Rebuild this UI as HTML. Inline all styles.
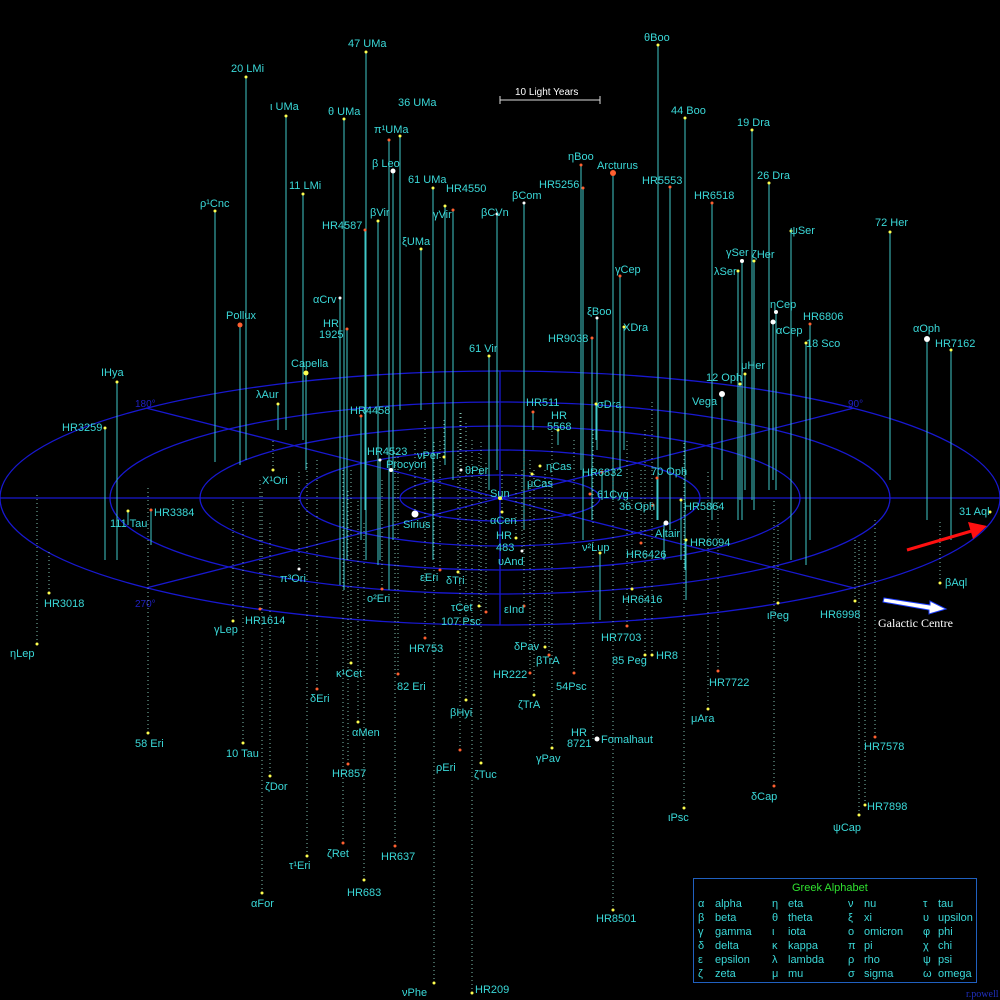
<!DOCTYPE html>
<html><head><meta charset="utf-8"><style>
html,body{margin:0;padding:0;background:#000;}
svg{display:block}
text{font-family:"Liberation Sans","DejaVu Sans",sans-serif;font-size:11px;fill:#3ad8d8}
.s line{stroke:#40c8c8;stroke-width:1}
.d line{stroke:#80c0b0;stroke-width:1;stroke-dasharray:1 3}
.y{fill:#ffff50}.o{fill:#ff6030}.w{fill:#fff}
</style></head><body>
<svg width="1000" height="1000" viewBox="0 0 1000 1000">
<rect width="1000" height="1000" fill="#000"/>
<g fill="none" stroke="#1818d0" stroke-width="1.3">
<ellipse cx="500" cy="498" rx="100" ry="23"/>
<ellipse cx="500" cy="498" rx="200" ry="48"/>
<ellipse cx="500" cy="498" rx="300" ry="72"/>
<ellipse cx="500" cy="498" rx="390" ry="96"/>
<ellipse cx="500" cy="498" rx="500" ry="127"/>
<line x1="0" y1="498" x2="1000" y2="498"/>
<line x1="500" y1="371" x2="500" y2="625"/>
<line x1="146" y1="408" x2="854" y2="588"/>
<line x1="146" y1="588" x2="854" y2="408"/>
</g>
<text x="135" y="407" style="fill:#2020c0;font-size:10px">180°</text>
<text x="848" y="407" style="fill:#2020c0;font-size:10px">90°</text>
<text x="135" y="607" style="fill:#2020c0;font-size:10px">270°</text>
<g stroke="#ddd"><line x1="500" y1="100" x2="600" y2="100"/><line x1="500" y1="96" x2="500" y2="104"/><line x1="600" y1="96" x2="600" y2="104"/></g>
<text x="515" y="95" style="fill:#fff;font-size:10px">10 Light Years</text>

<g class="s">
<line x1="366" y1="52" x2="366" y2="560"/><line x1="246" y1="77" x2="246" y2="460"/><line x1="286" y1="116" x2="286" y2="430"/>
<line x1="344" y1="119" x2="344" y2="590"/><line x1="400" y1="136" x2="400" y2="410"/><line x1="389" y1="140" x2="389" y2="590"/>
<line x1="393" y1="171" x2="393" y2="540"/><line x1="433" y1="188" x2="433" y2="560"/><line x1="445" y1="206" x2="445" y2="465"/>
<line x1="453" y1="210" x2="453" y2="480"/><line x1="378" y1="221" x2="378" y2="565"/><line x1="365" y1="230" x2="365" y2="510"/>
<line x1="421" y1="249" x2="421" y2="410"/><line x1="497" y1="214" x2="497" y2="470"/><line x1="524" y1="203" x2="524" y2="530"/>
<line x1="303" y1="194" x2="303" y2="440"/><line x1="215" y1="211" x2="215" y2="462"/><line x1="340" y1="298" x2="340" y2="585"/>
<line x1="347" y1="329" x2="347" y2="560"/><line x1="240" y1="325" x2="240" y2="465"/><line x1="306" y1="373" x2="306" y2="470"/>
<line x1="278" y1="404" x2="278" y2="430"/><line x1="117" y1="382" x2="117" y2="560"/><line x1="105" y1="428" x2="105" y2="560"/>
<line x1="361" y1="416" x2="361" y2="540"/><line x1="380" y1="460" x2="380" y2="560"/><line x1="489" y1="356" x2="489" y2="490"/>
<line x1="658" y1="45" x2="658" y2="520"/><line x1="685" y1="118" x2="685" y2="570"/><line x1="581" y1="165" x2="581" y2="470"/>
<line x1="583" y1="188" x2="583" y2="540"/><line x1="613" y1="173" x2="613" y2="500"/><line x1="670" y1="187" x2="670" y2="530"/>
<line x1="752" y1="130" x2="752" y2="500"/><line x1="769" y1="183" x2="769" y2="490"/><line x1="712" y1="203" x2="712" y2="520"/>
<line x1="791" y1="231" x2="791" y2="560"/><line x1="890" y1="232" x2="890" y2="480"/><line x1="742" y1="261" x2="742" y2="520"/>
<line x1="754" y1="261" x2="754" y2="510"/><line x1="738" y1="271" x2="738" y2="520"/><line x1="620" y1="276" x2="620" y2="470"/>
<line x1="597" y1="318" x2="597" y2="450"/><line x1="624" y1="327" x2="624" y2="450"/><line x1="592" y1="338" x2="592" y2="520"/>
<line x1="776" y1="312" x2="776" y2="490"/><line x1="810" y1="324" x2="810" y2="540"/><line x1="773" y1="322" x2="773" y2="480"/>
<line x1="806" y1="343" x2="806" y2="565"/><line x1="927" y1="339" x2="927" y2="520"/><line x1="951" y1="350" x2="951" y2="540"/>
<line x1="745" y1="374" x2="745" y2="490"/><line x1="740" y1="384" x2="740" y2="500"/><line x1="722" y1="394" x2="722" y2="480"/>
<line x1="596" y1="404" x2="596" y2="440"/><line x1="533" y1="412" x2="533" y2="430"/><line x1="558" y1="430" x2="558" y2="445"/>
<line x1="657" y1="478" x2="657" y2="520"/><line x1="681" y1="500" x2="681" y2="560"/><line x1="686" y1="540" x2="686" y2="600"/>
<line x1="600" y1="553" x2="600" y2="620"/><line x1="151" y1="510" x2="151" y2="545"/><line x1="128" y1="511" x2="128" y2="525"/>
<line x1="664" y1="523" x2="664" y2="560"/><line x1="602" y1="472" x2="602" y2="500"/>
</g>
<g class="d">
<line x1="37" y1="644" x2="37" y2="492"/><line x1="49" y1="593" x2="49" y2="550"/><line x1="148" y1="733" x2="148" y2="488"/>
<line x1="243" y1="743" x2="243" y2="500"/><line x1="233" y1="621" x2="233" y2="500"/><line x1="260" y1="609" x2="260" y2="480"/>
<line x1="270" y1="776" x2="270" y2="520"/><line x1="307" y1="856" x2="307" y2="460"/><line x1="262" y1="893" x2="262" y2="490"/>
<line x1="299" y1="569" x2="299" y2="470"/><line x1="351" y1="663" x2="351" y2="470"/><line x1="317" y1="689" x2="317" y2="460"/>
<line x1="358" y1="722" x2="358" y2="500"/><line x1="348" y1="764" x2="348" y2="490"/><line x1="343" y1="843" x2="343" y2="470"/>
<line x1="364" y1="880" x2="364" y2="520"/><line x1="395" y1="846" x2="395" y2="450"/><line x1="398" y1="674" x2="398" y2="450"/>
<line x1="382" y1="589" x2="382" y2="480"/><line x1="425" y1="638" x2="425" y2="420"/><line x1="440" y1="570" x2="440" y2="440"/>
<line x1="458" y1="572" x2="458" y2="440"/><line x1="479" y1="606" x2="479" y2="450"/><line x1="486" y1="612" x2="486" y2="460"/>
<line x1="466" y1="700" x2="466" y2="420"/><line x1="460" y1="750" x2="460" y2="410"/><line x1="481" y1="763" x2="481" y2="440"/>
<line x1="434" y1="983" x2="434" y2="440"/><line x1="472" y1="993" x2="472" y2="440"/><line x1="524" y1="606" x2="524" y2="450"/>
<line x1="545" y1="647" x2="545" y2="470"/><line x1="549" y1="655" x2="549" y2="480"/><line x1="530" y1="673" x2="530" y2="460"/>
<line x1="534" y1="695" x2="534" y2="470"/><line x1="574" y1="673" x2="574" y2="440"/><line x1="552" y1="748" x2="552" y2="430"/>
<line x1="593" y1="739" x2="593" y2="430"/><line x1="613" y1="910" x2="613" y2="450"/><line x1="627" y1="626" x2="627" y2="440"/>
<line x1="632" y1="589" x2="632" y2="470"/><line x1="645" y1="655" x2="645" y2="430"/><line x1="652" y1="655" x2="652" y2="400"/>
<line x1="718" y1="671" x2="718" y2="500"/><line x1="708" y1="709" x2="708" y2="470"/><line x1="684" y1="808" x2="684" y2="440"/>
<line x1="774" y1="786" x2="774" y2="500"/><line x1="778" y1="603" x2="778" y2="520"/><line x1="855" y1="601" x2="855" y2="540"/>
<line x1="875" y1="737" x2="875" y2="520"/><line x1="865" y1="805" x2="865" y2="540"/><line x1="859" y1="815" x2="859" y2="540"/>
<line x1="940" y1="583" x2="940" y2="520"/><line x1="641" y1="543" x2="641" y2="470"/><line x1="461" y1="470" x2="461" y2="410"/>
<line x1="444" y1="457" x2="444" y2="420"/><line x1="273" y1="470" x2="273" y2="440"/><line x1="415" y1="514" x2="415" y2="440"/>
<line x1="522" y1="551" x2="522" y2="470"/><line x1="516" y1="538" x2="516" y2="470"/><line x1="502" y1="512" x2="502" y2="470"/>
</g>
<g class="y">
<circle cx="366" cy="52" r="1.5"/><circle cx="246" cy="77" r="1.5"/><circle cx="286" cy="116" r="1.5"/><circle cx="344" cy="119" r="1.5"/>
<circle cx="400" cy="136" r="1.5"/><circle cx="433" cy="188" r="1.5"/><circle cx="445" cy="206" r="1.5"/><circle cx="378" cy="221" r="1.5"/>
<circle cx="421" cy="249" r="1.5"/><circle cx="303" cy="194" r="1.5"/><circle cx="215" cy="211" r="1.5"/><circle cx="278" cy="404" r="1.5"/>
<circle cx="117" cy="382" r="1.5"/><circle cx="105" cy="428" r="1.5"/><circle cx="489" cy="356" r="1.5"/><circle cx="658" cy="45" r="1.5"/>
<circle cx="685" cy="118" r="1.5"/><circle cx="752" cy="130" r="1.5"/><circle cx="769" cy="183" r="1.5"/><circle cx="791" cy="231" r="1.5"/>
<circle cx="890" cy="232" r="1.5"/><circle cx="754" cy="261" r="1.5"/><circle cx="738" cy="271" r="1.5"/><circle cx="806" cy="343" r="1.5"/>
<circle cx="951" cy="350" r="1.5"/><circle cx="745" cy="374" r="1.5"/><circle cx="740" cy="384" r="1.5"/><circle cx="624" cy="327" r="1.5"/>
<circle cx="500" cy="498" r="2"/><circle cx="502" cy="512" r="1.5"/><circle cx="516" cy="538" r="1.5"/><circle cx="540" cy="466" r="1.5"/>
<circle cx="532" cy="474" r="1.5"/><circle cx="681" cy="500" r="1.5"/><circle cx="686" cy="540" r="1.5"/><circle cx="600" cy="553" r="1.5"/>
<circle cx="128" cy="511" r="1.5"/><circle cx="49" cy="593" r="1.5"/><circle cx="37" cy="644" r="1.5"/><circle cx="148" cy="733" r="1.5"/>
<circle cx="243" cy="743" r="1.5"/><circle cx="233" cy="621" r="1.5"/><circle cx="270" cy="776" r="1.5"/><circle cx="307" cy="856" r="1.5"/>
<circle cx="262" cy="893" r="1.5"/><circle cx="351" cy="663" r="1.5"/><circle cx="358" cy="722" r="1.5"/><circle cx="364" cy="880" r="1.5"/>
<circle cx="458" cy="572" r="1.5"/><circle cx="479" cy="606" r="1.5"/><circle cx="466" cy="700" r="1.5"/><circle cx="481" cy="763" r="1.5"/>
<circle cx="434" cy="983" r="1.5"/><circle cx="472" cy="993" r="1.5"/><circle cx="545" cy="647" r="1.5"/><circle cx="534" cy="695" r="1.5"/>
<circle cx="552" cy="748" r="1.5"/><circle cx="632" cy="589" r="1.5"/><circle cx="645" cy="655" r="1.5"/><circle cx="652" cy="655" r="1.5"/>
<circle cx="708" cy="709" r="1.5"/><circle cx="684" cy="808" r="1.5"/><circle cx="778" cy="603" r="1.5"/><circle cx="855" cy="601" r="1.5"/>
<circle cx="865" cy="805" r="1.5"/><circle cx="859" cy="815" r="1.5"/><circle cx="940" cy="583" r="1.5"/><circle cx="990" cy="512" r="1.5"/>
<circle cx="273" cy="470" r="1.5"/><circle cx="444" cy="457" r="1.5"/><circle cx="596" cy="404" r="1.5"/><circle cx="558" cy="430" r="1.5"/>
<circle cx="613" cy="910" r="1.5"/><circle cx="306" cy="373" r="2.5"/>
</g>
<g class="o">
<circle cx="389" cy="140" r="1.5"/><circle cx="453" cy="210" r="1.5"/><circle cx="365" cy="230" r="1.5"/><circle cx="347" cy="329" r="1.5"/>
<circle cx="240" cy="325" r="2.5"/><circle cx="581" cy="165" r="1.5"/><circle cx="583" cy="188" r="1.5"/><circle cx="613" cy="173" r="3"/>
<circle cx="670" cy="187" r="1.5"/><circle cx="712" cy="203" r="1.5"/><circle cx="620" cy="276" r="1.5"/><circle cx="592" cy="338" r="1.5"/>
<circle cx="810" cy="324" r="1.5"/><circle cx="361" cy="416" r="1.5"/><circle cx="533" cy="412" r="1.5"/><circle cx="657" cy="478" r="1.5"/>
<circle cx="590" cy="494" r="1.5"/><circle cx="602" cy="472" r="1.5"/><circle cx="151" cy="510" r="1.5"/><circle cx="260" cy="609" r="1.5"/>
<circle cx="317" cy="689" r="1.5"/><circle cx="348" cy="764" r="1.5"/><circle cx="343" cy="843" r="1.5"/><circle cx="395" cy="846" r="1.5"/>
<circle cx="398" cy="674" r="1.5"/><circle cx="382" cy="589" r="1.5"/><circle cx="425" cy="638" r="1.5"/><circle cx="440" cy="570" r="1.5"/>
<circle cx="486" cy="612" r="1.5"/><circle cx="460" cy="750" r="1.5"/><circle cx="524" cy="606" r="1.5"/><circle cx="530" cy="673" r="1.5"/>
<circle cx="574" cy="673" r="1.5"/><circle cx="627" cy="626" r="1.5"/><circle cx="718" cy="671" r="1.5"/><circle cx="875" cy="737" r="1.5"/>
<circle cx="641" cy="543" r="1.5"/><circle cx="653" cy="505" r="1.5"/><circle cx="549" cy="655" r="1.5"/><circle cx="774" cy="786" r="1.5"/>
</g>
<g class="w">
<circle cx="393" cy="171" r="2.5"/><circle cx="497" cy="214" r="1.5"/><circle cx="524" cy="203" r="1.5"/><circle cx="340" cy="298" r="1.5"/>
<circle cx="380" cy="460" r="1.5"/><circle cx="391" cy="470" r="2"/><circle cx="742" cy="261" r="2"/><circle cx="776" cy="312" r="2"/>
<circle cx="773" cy="322" r="2.5"/><circle cx="927" cy="339" r="3"/><circle cx="722" cy="394" r="3"/><circle cx="666" cy="523" r="2.5"/>
<circle cx="415" cy="514" r="3.5"/><circle cx="522" cy="551" r="1.5"/><circle cx="461" cy="470" r="1.5"/><circle cx="299" cy="569" r="1.5"/>
<circle cx="597" cy="739" r="2.5"/><circle cx="597" cy="318" r="1.5"/>
</g>
<g>
<text x="348" y="47">47 UMa</text><text x="231" y="72">20 LMi</text><text x="270" y="110">ι UMa</text><text x="328" y="115">θ UMa</text>
<text x="398" y="106">36 UMa</text><text x="374" y="133">π¹UMa</text><text x="372" y="167">β Leo</text><text x="408" y="183">61 UMa</text>
<text x="446" y="192">HR4550</text><text x="433" y="218">γVir</text><text x="370" y="216">βVir</text><text x="322" y="229">HR4587</text>
<text x="402" y="245">ξUMa</text><text x="481" y="216">βCVn</text><text x="512" y="199">βCom</text><text x="289" y="189">11 LMi</text>
<text x="200" y="207">ρ¹Cnc</text><text x="313" y="303">αCrv</text><text x="323" y="327">HR</text><text x="319" y="338">1925</text>
<text x="226" y="319">Pollux</text><text x="291" y="367">Capella</text><text x="256" y="398">λAur</text><text x="101" y="376">ΙHya</text>
<text x="62" y="431">HR3259</text><text x="350" y="414">HR4458</text><text x="367" y="455">HR4523</text><text x="386" y="468">Procyon</text>
<text x="417" y="459">νPer</text><text x="465" y="474">θPer</text><text x="469" y="352">61 Vir</text><text x="644" y="41">θBoo</text>
<text x="671" y="114">44 Boo</text><text x="568" y="160">ηBoo</text><text x="539" y="188">HR5256</text><text x="597" y="169">Arcturus</text>
<text x="642" y="184">HR5553</text><text x="737" y="126">19 Dra</text><text x="757" y="179">26 Dra</text><text x="694" y="199">HR6518</text>
<text x="790" y="234">ψSer</text><text x="875" y="226">72 Her</text><text x="726" y="256">γSer</text><text x="752" y="258">ζHer</text>
<text x="714" y="275">λSer</text><text x="615" y="273">γCep</text><text x="587" y="315">ξBoo</text><text x="623" y="331">XDra</text>
<text x="548" y="342">HR9038</text><text x="770" y="308">ηCep</text><text x="803" y="320">HR6806</text><text x="776" y="334">αCep</text>
<text x="806" y="347">18 Sco</text><text x="913" y="332">αOph</text><text x="935" y="347">HR7162</text><text x="741" y="369">μHer</text>
<text x="706" y="381">12 Oph</text><text x="692" y="405">Vega</text><text x="597" y="408">σDra</text><text x="526" y="406">HR511</text>
<text x="551" y="419">HR</text><text x="547" y="430">5568</text><text x="651" y="475">70 Oph</text><text x="597" y="498">61Cyg</text>
<text x="582" y="476">HR6832</text><text x="546" y="470">ηCas</text><text x="527" y="487">μCas</text><text x="490" y="497">Sun</text>
<text x="490" y="524">αCen</text><text x="496" y="539">HR</text><text x="496" y="551">483</text><text x="498" y="565">υAnd</text>
<text x="403" y="528">Sirius</text><text x="582" y="551">ν²Lup</text><text x="619" y="510">36 Oph</text><text x="655" y="537">Altair</text>
<text x="684" y="510">HR5864</text><text x="690" y="546">HR6094</text><text x="626" y="558">HR6426</text><text x="622" y="603">HR6416</text>
<text x="262" y="484">X¹Ori</text><text x="154" y="516">HR3384</text><text x="110" y="527">111 Tau</text>
<text x="44" y="607">HR3018</text><text x="10" y="657">ηLep</text><text x="135" y="747">58 Eri</text><text x="226" y="757">10 Tau</text>
<text x="214" y="633">γLep</text><text x="245" y="624">HR1614</text><text x="265" y="790">ζDor</text><text x="289" y="869">τ¹Eri</text>
<text x="251" y="907">αFor</text><text x="280" y="582">π³Ori</text><text x="336" y="677">κ¹Cet</text><text x="310" y="702">δEri</text>
<text x="352" y="736">αMen</text><text x="332" y="777">HR857</text><text x="327" y="857">ζRet</text><text x="347" y="896">HR683</text>
<text x="381" y="860">HR637</text><text x="397" y="690">82 Eri</text><text x="367" y="602">o²Eri</text><text x="409" y="652">HR753</text>
<text x="420" y="581">εEri</text><text x="446" y="584">δTri</text><text x="451" y="611">τCet</text><text x="441" y="625">107 Psc</text>
<text x="450" y="716">βHyi</text><text x="436" y="771">ρEri</text><text x="474" y="778">ζTuc</text><text x="402" y="996">νPhe</text>
<text x="475" y="993">HR209</text><text x="504" y="613">εInd</text><text x="514" y="650">δPav</text><text x="536" y="664">βTrA</text>
<text x="493" y="678">HR222</text><text x="518" y="708">ζTrA</text><text x="556" y="690">54Psc</text><text x="536" y="762">γPav</text>
<text x="571" y="736">HR</text><text x="567" y="747">8721</text><text x="601" y="743">Fomalhaut</text><text x="596" y="922">HR8501</text>
<text x="601" y="641">HR7703</text><text x="612" y="664">85 Peg</text><text x="656" y="659">HR8</text><text x="709" y="686">HR7722</text>
<text x="691" y="722">μAra</text><text x="668" y="821">ιPsc</text><text x="751" y="800">δCap</text><text x="767" y="619">ιPeg</text>
<text x="820" y="618">HR6998</text><text x="864" y="750">HR7578</text><text x="867" y="810">HR7898</text><text x="833" y="831">ψCap</text>
<text x="945" y="586">βAql</text><text x="959" y="515">31 Aql</text>
</g>
<line x1="907" y1="550" x2="975" y2="530" stroke="#ff1010" stroke-width="3"/>
<polygon points="987,526 968,522 973,539" fill="#ff1010"/>
<polygon points="884,598 930,605 930,601 946,609 929,614 929,610 883,602" fill="#fff" stroke="#2040ff" stroke-width="1"/>
<text x="878" y="627" style="fill:#fff;font-family:'Liberation Serif',serif;font-size:12px">Galactic Centre</text>
<rect x="693.5" y="878.5" width="283" height="104" fill="none" stroke="#2060c0"/>
<text x="792" y="891" style="fill:#30e030">Greek Alphabet</text>
<g style="font-size:10px">
<text x="698" y="907">α</text><text x="715" y="907">alpha</text><text x="698" y="921">β</text><text x="715" y="921">beta</text>
<text x="698" y="935">γ</text><text x="715" y="935">gamma</text><text x="698" y="949">δ</text><text x="715" y="949">delta</text>
<text x="698" y="963">ε</text><text x="715" y="963">epsilon</text><text x="698" y="977">ζ</text><text x="715" y="977">zeta</text>
<text x="772" y="907">η</text><text x="788" y="907">eta</text><text x="772" y="921">θ</text><text x="788" y="921">theta</text>
<text x="772" y="935">ι</text><text x="788" y="935">iota</text><text x="772" y="949">κ</text><text x="788" y="949">kappa</text>
<text x="772" y="963">λ</text><text x="788" y="963">lambda</text><text x="772" y="977">μ</text><text x="788" y="977">mu</text>
<text x="848" y="907">ν</text><text x="864" y="907">nu</text><text x="848" y="921">ξ</text><text x="864" y="921">xi</text>
<text x="848" y="935">ο</text><text x="864" y="935">omicron</text><text x="848" y="949">π</text><text x="864" y="949">pi</text>
<text x="848" y="963">ρ</text><text x="864" y="963">rho</text><text x="848" y="977">σ</text><text x="864" y="977">sigma</text>
<text x="923" y="907">τ</text><text x="938" y="907">tau</text><text x="923" y="921">υ</text><text x="938" y="921">upsilon</text>
<text x="923" y="935">φ</text><text x="938" y="935">phi</text><text x="923" y="949">χ</text><text x="938" y="949">chi</text>
<text x="923" y="963">ψ</text><text x="938" y="963">psi</text><text x="923" y="977">ω</text><text x="938" y="977">omega</text>
</g>
<text x="966" y="997" style="fill:#2030c0;font-family:'Liberation Serif',serif;font-size:10px">r.powell</text>
</svg>
</body></html>
